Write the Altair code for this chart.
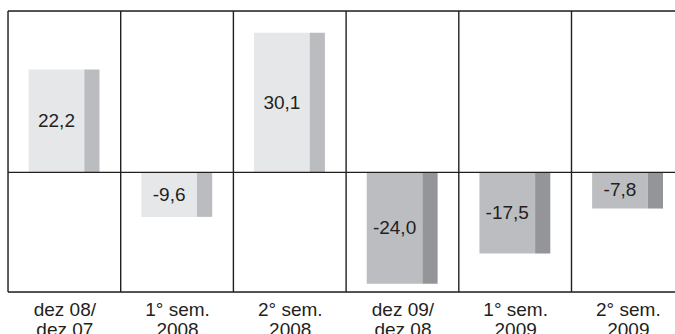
import altair as alt
import pandas as pd

# Periods and variation (%)
periods = ["dez 08/|dez 07", "1° sem.|2008", "2° sem.|2008",
           "dez 09/|dez 08", "1° sem.|2009", "2° sem.|2009"]
values = [22.2, -9.6, 30.1, -24.0, -17.5, -7.8]
# shade group: light bars vs dark bars
shade = ["light", "light", "light", "dark", "dark", "dark"]

FRONT = {"light": "#e6e7e8", "dark": "#bcbdc0"}
SIDE = {"light": "#bbbcbf", "dark": "#939598"}

W, H = 667, 281
Y_MIN, Y_MAX = -25.8, 34.8
X_MAX = W / 112.7  # panels are one unit wide; the last one runs off the edge

rows = []
for i, (p, v, s) in enumerate(zip(periods, values, shade)):
    rows.append({
        "i": i, "period": p, "value": v, "zero": 0.0,
        "label": f"{v:.1f}".replace(".", ","),
        "f0": i + 0.183, "f1": i + 0.677, "s1": i + 0.812,
        "mid": i + 0.43, "front": FRONT[s], "side": SIDE[s],
    })
df = pd.DataFrame(rows)

xs = alt.Scale(domain=[0, X_MAX], nice=False, zero=False)
ys = alt.Scale(domain=[Y_MIN, Y_MAX], nice=False, zero=False)

base = alt.Chart(df)

front = base.mark_rect().encode(
    x=alt.X("f0:Q", scale=xs, axis=alt.Axis(
        values=[k + 0.5 for k in range(len(periods))],
        labelExpr="split(" + str(periods).replace('"', "'") + "[floor(datum.value)], '|')",
        title=None, ticks=False, domain=False, grid=False,
        labelFontSize=19, labelFont="Liberation Sans", labelColor="#231f20",
        labelPadding=8, labelLineHeight=20, labelAngle=0)),
    x2="f1:Q",
    y=alt.Y("value:Q", scale=ys, axis=None),
    y2="zero:Q",
    color=alt.Color("front:N", scale=None),
)

side = base.mark_rect().encode(
    x=alt.X("f1:Q", scale=xs), x2="s1:Q",
    y=alt.Y("value:Q", scale=ys), y2="zero:Q",
    color=alt.Color("side:N", scale=None),
)

labels = base.transform_calculate(ymid="datum.value / 2").mark_text(
    fontSize=19, font="Liberation Sans", color="#231f20", baseline="middle"
).encode(
    x=alt.X("mid:Q", scale=xs),
    y=alt.Y("ymid:Q", scale=ys),
    text="label:N",
)

LINE = "#231f20"
vlines = alt.Chart(pd.DataFrame({"x": list(range(len(periods)))})).mark_rule(
    color=LINE, strokeWidth=1.4
).encode(x=alt.X("x:Q", scale=xs), y=alt.value(0), y2=alt.value(H))

hlines = alt.Chart(pd.DataFrame({"y": [Y_MIN, 0.0, Y_MAX]})).mark_rule(
    color=LINE, strokeWidth=1.4
).encode(y=alt.Y("y:Q", scale=ys), x=alt.value(0), x2=alt.value(W))

chart = alt.layer(front, side, labels, vlines, hlines).properties(
    width=W, height=H,
    autosize=alt.AutoSizeParams(type="none"),
    padding={"left": 8, "top": 11, "right": 0, "bottom": 42},
).configure_view(stroke=None).configure(background="white")

chart.save("out.html", embed_options={"renderer": "svg", "actions": False})
